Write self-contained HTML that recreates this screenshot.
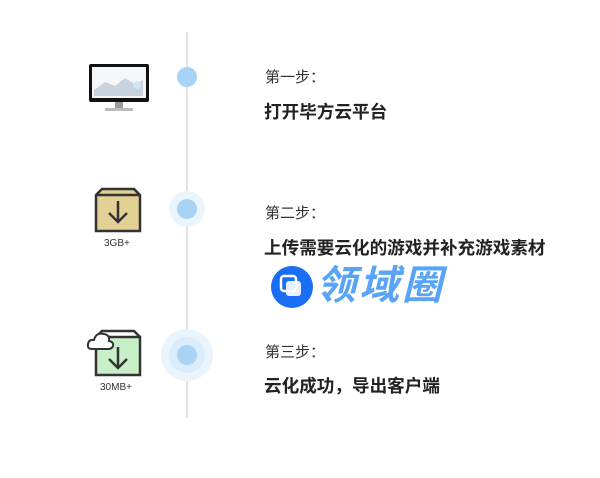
<!DOCTYPE html>
<html><head><meta charset="utf-8"><style>
body{margin:0;width:600px;height:478px;background:#fff;position:relative;overflow:hidden;font-family:"Liberation Sans","Noto Sans CJK SC",sans-serif}
.a{position:absolute}
.s{font-size:15px;color:#333;left:265px}
.t{font-size:17.6px;font-weight:bold;color:#222;left:264px}
.dot{position:absolute;width:20px;height:20px;border-radius:50%;background:#a8d3f5}
.sm{font-size:10px;color:#333}
</style></head><body>
<div class="a" style="left:186px;top:32px;width:2px;height:386px;background:#e2e2e2"></div>
<div class="a" style="left:169px;top:191px;width:36px;height:36px;border-radius:50%;background:#eaf4fd"></div>
<div class="a" style="left:161px;top:329px;width:52px;height:52px;border-radius:50%;background:#eaf4fd"></div>
<div class="a" style="left:169px;top:337px;width:36px;height:36px;border-radius:50%;background:#dbecfb"></div>
<div class="dot" style="left:177px;top:67px"></div>
<div class="dot" style="left:177px;top:199px"></div>
<div class="dot" style="left:177px;top:345px"></div>

<svg class="a" style="left:85px;top:60px" width="66" height="55">
<rect x="4" y="4" width="60" height="38" fill="#111" rx="2"/>
<rect x="7" y="7" width="54" height="31" fill="#f4f6f9"/>
<path d="M9 30 L20 22 L30 26 L40 18 L50 24 L58 20 L58 36 L9 36Z" fill="#c9d3de"/>
<circle cx="52" cy="25" r="4" fill="#cde6f5"/>
<rect x="30" y="42" width="8" height="6" fill="#999"/>
<rect x="20" y="48" width="28" height="3" fill="#bbb"/>
</svg>

<svg class="a" style="left:94px;top:187px" width="48" height="46">
<path d="M2 8 L8 2 L40 2 L46 8 L46 44 L2 44Z" fill="#e3d094" stroke="#333" stroke-width="2.5"/>
<line x1="2" y1="8" x2="46" y2="8" stroke="#333" stroke-width="2.5"/>
<path d="M24 14 V34 M15 26 L24 35 L33 26" fill="none" stroke="#333" stroke-width="2.5"/>
</svg>
<div class="a sm" style="left:104px;top:238px">3GB+</div>

<svg class="a" style="left:86px;top:327px" width="58" height="50">
<rect x="10" y="10" width="44" height="38" fill="#c8f0c8" stroke="#333" stroke-width="2.5"/>
<path d="M10 10 L16 4 L48 4 L54 10" fill="none" stroke="#333" stroke-width="2.5"/>
<path d="M6 22 Q1 22 2 17 Q3 12 8 13 Q10 5 18 7 Q24 8 23 14 Q28 15 27 19 Q26 22 22 22Z" fill="#fff" stroke="#333" stroke-width="2"/>
<path d="M32 20 V40 M23 32 L32 41 L41 32" fill="none" stroke="#333" stroke-width="2.5"/>
</svg>
<div class="a sm" style="left:100px;top:382px">30MB+</div>

<div class="a s" style="top:66px">第一步：</div>
<div class="a t" style="top:99px">打开毕方云平台</div>
<div class="a s" style="top:202px">第二步：</div>
<div class="a t" style="top:235px">上传需要云化的游戏并补充游戏素材</div>
<div class="a s" style="top:341px">第三步：</div>
<div class="a t" style="top:373px">云化成功，导出客户端</div>

<svg class="a" style="left:270px;top:265px" width="44" height="44">
<circle cx="22" cy="22" r="21" fill="#1a6ef5"/>
<rect x="11" y="11" width="15" height="15" rx="3" fill="none" stroke="#fff" stroke-width="2.5"/>
<rect x="16" y="16" width="15" height="15" rx="3" fill="#fff" opacity="0.9"/>
</svg>
<div class="a" style="left:316px;top:264px;font-size:40px;font-weight:bold;font-style:italic;color:#5aa4f8;line-height:44px;letter-spacing:3px">领域圈</div>
</body></html>
